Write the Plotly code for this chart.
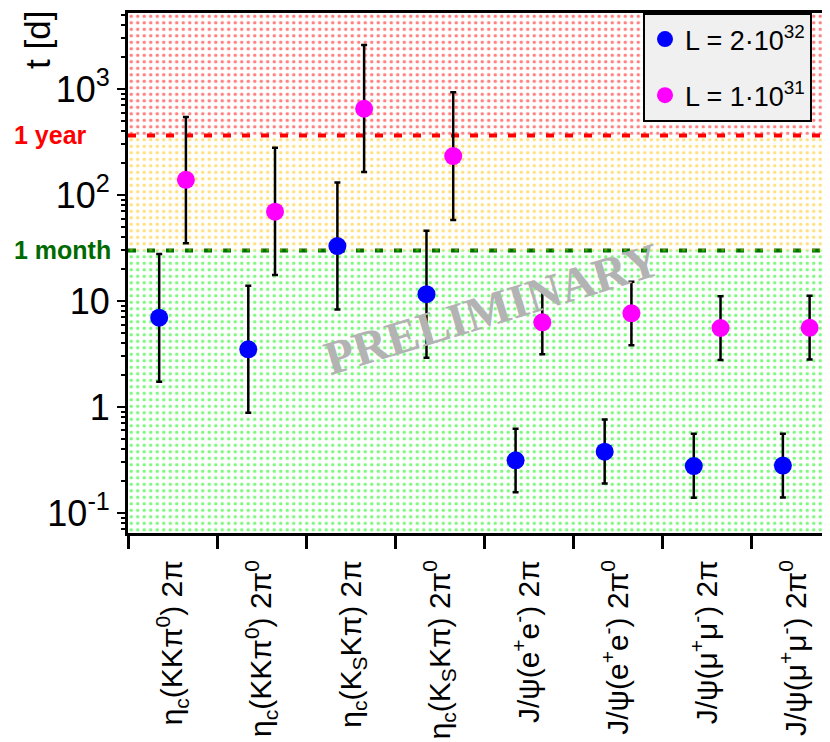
import numpy as np
import plotly.graph_objects as go

# ---------------- data ----------------
categories = [
    "η<sub>c</sub>(KKπ<sup>0</sup>) 2π",
    "η<sub>c</sub>(KKπ<sup>0</sup>) 2π<sup>0</sup>",
    "η<sub>c</sub>(K<sub>S</sub>Kπ) 2π",
    "η<sub>c</sub>(K<sub>S</sub>Kπ) 2π<sup>0</sup>",
    "J/ψ(e<sup>+</sup>e<sup>-</sup>) 2π",
    "J/ψ(e<sup>+</sup>e<sup>-</sup>) 2π<sup>0</sup>",
    "J/ψ(μ<sup>+</sup>μ<sup>-</sup>) 2π",
    "J/ψ(μ<sup>+</sup>μ<sup>-</sup>) 2π<sup>0</sup>",
]

# L = 2e32
t_high = [6.96, 3.50, 33.0, 11.6, 0.314, 0.379, 0.277, 0.280]
t_high_up = [27.7, 13.9, 131.0, 46.0, 0.624, 0.76, 0.56, 0.56]
t_high_lo = [1.73, 0.88, 8.3, 2.92, 0.157, 0.19, 0.139, 0.14]

# L = 1e31
t_low = [139.0, 69.6, 651.0, 233.0, 6.29, 7.65, 5.56, 5.59]
t_low_up = [545.0, 279.0, 2600.0, 931.0, 12.6, 15.2, 11.1, 11.2]
t_low_lo = [35.0, 17.6, 165.0, 58.0, 3.14, 3.82, 2.78, 2.80]

series_names = ["L = 2·10<sup>32</sup>", "L = 1·10<sup>31</sup>"]

YEAR = 365.0
MONTH = 30.0

y_tickvals = [0.1, 1, 10, 100, 1000]
y_ticktext = ["10<sup>-1</sup>", "1", "10", "10<sup>2</sup>", "10<sup>3</sup>"]

# ---------------- layout constants ----------------
# the page body adds an 8px offset, so the figure is 8px smaller
W, H = 822, 734
ML, MR, MT, MB = 120, 0, 5, 209
PW = W - ML - MR
PH = H - MT - MB
GROUP_PX = 89.1
XR = [-0.5, -0.5 + PW / GROUP_PX]
YR = [-1.189, 3.717]
OFF = 0.15
FONT = "Liberation Sans, Arial, Helvetica, sans-serif"

idx = np.arange(len(categories))

fig = go.Figure()

# background regions (dotted patterns)
XL, XH = -2, 10
YLO, YHI = 1e-3, 1e6
regions = [
    (YEAR, YHI, "#ff0000"),
    (MONTH, YEAR, "#ffc000"),
    (YLO, MONTH, "#00f000"),
]
for lo, hi, col in regions:
    fig.add_trace(go.Scatter(
        x=[XL, XH, XH, XL, XL], y=[lo, lo, hi, hi, lo],
        mode="lines", fill="toself", line=dict(width=0, color="rgba(0,0,0,0)"),
        fillcolor="rgba(0,0,0,0)",
        fillpattern=dict(shape=".", fgcolor=col, bgcolor="rgba(0,0,0,0)",
                         size=6.5, solidity=0.22, fillmode="overlay"),
        showlegend=False, hoverinfo="skip",
    ))

def add_series(vals, up, lo, color, name, offset, group):
    v = np.array(vals)
    fig.add_trace(go.Scatter(
        x=idx + offset, y=v, mode="markers", name=name, legendgroup=group,
        marker=dict(color=color, size=18, line=dict(width=0)),
        error_y=dict(type="data", symmetric=False,
                     array=np.array(up) - v, arrayminus=v - np.array(lo),
                     color="black", thickness=2.5, width=3),
    ))

add_series(t_high, t_high_up, t_high_lo, "#0000ff", series_names[0], -OFF, "a")
add_series(t_low, t_low_up, t_low_lo, "#ff00ff", series_names[1], +OFF, "b")

# threshold dashed lines
for val, col in [(YEAR, "#ff0000"), (MONTH, "#006a00")]:
    fig.add_shape(type="line", xref="paper", x0=0, x1=1, yref="y", y0=val, y1=val,
                  line=dict(color=col, width=4, dash="8px,11px"), layer="below")

minor_y = [k * 10.0 ** n for n in range(-2, 4) for k in range(2, 10)]

fig.update_layout(
    width=W, height=H,
    margin=dict(l=ML, r=MR, t=MT, b=MB, autoexpand=False),
    paper_bgcolor="white", plot_bgcolor="white",
    font=dict(family=FONT, color="black"),
    showlegend=True,
    legend=dict(
        x=(635 - ML) / PW, xanchor="left", y=1, yanchor="top",
        bgcolor="#f0f0f0", bordercolor="black", borderwidth=2,
        font=dict(size=27, family=FONT, color="black"),
        tracegroupgap=18, itemsizing="trace",
        entrywidth=260, entrywidthmode="pixels",
    ),
    xaxis=dict(
        range=XR, showgrid=False, zeroline=False,
        showline=True, linecolor="black", linewidth=3, mirror=True,
        tickmode="array", tickvals=idx, ticktext=categories,
        tickangle=-90, ticks="", tickfont=dict(size=30, family=FONT, color="black"),
        ticklabelstandoff=12, automargin=False,
        minor=dict(tickmode="array", tickvals=list(np.arange(-0.5, 8.0, 1.0)),
                   ticks="outside", ticklen=13, tickwidth=3, tickcolor="black",
                   showgrid=False),
    ),
    yaxis=dict(
        type="log", range=YR, showgrid=False, zeroline=False,
        showline=True, linecolor="black", linewidth=3,
        tickmode="array", tickvals=y_tickvals, ticktext=y_ticktext,
        ticks="outside", ticklen=8, tickwidth=2, tickcolor="black",
        tickfont=dict(size=36, family=FONT, color="black"),
        automargin=False,
        minor=dict(tickmode="array", tickvals=minor_y, ticks="outside",
                   ticklen=4, tickwidth=1.5, tickcolor="black", showgrid=False),
    ),
)

annotations = [
    dict(text="t [d]", xref="paper", yref="paper", x=(29 - ML) / PW, y=(H - MB - 32) / PH,
         textangle=-90, showarrow=False, font=dict(size=35, family=FONT, color="black"),
         xanchor="center", yanchor="middle"),
    dict(text="<b>1 year</b>", xref="paper", yref="y", x=(4 - ML) / PW, y=np.log10(YEAR),
         showarrow=False, xanchor="left", yanchor="middle",
         font=dict(size=25, family=FONT, color="#ff0000")),
    dict(text="<b>1 month</b>", xref="paper", yref="y", x=(4 - ML) / PW, y=np.log10(MONTH),
         showarrow=False, xanchor="left", yanchor="middle",
         font=dict(size=25, family=FONT, color="#006a00")),
    dict(text="<b>PRELIMINARY</b>", xref="paper", yref="paper",
         x=(484 - ML) / PW, y=(H - MB - 300) / PH, textangle=-17, showarrow=False,
         font=dict(size=48, family="Liberation Serif, Times New Roman, serif", color="#b3b3b3")),
]
fig.update_layout(annotations=annotations)

fig.write_html("out.html")
